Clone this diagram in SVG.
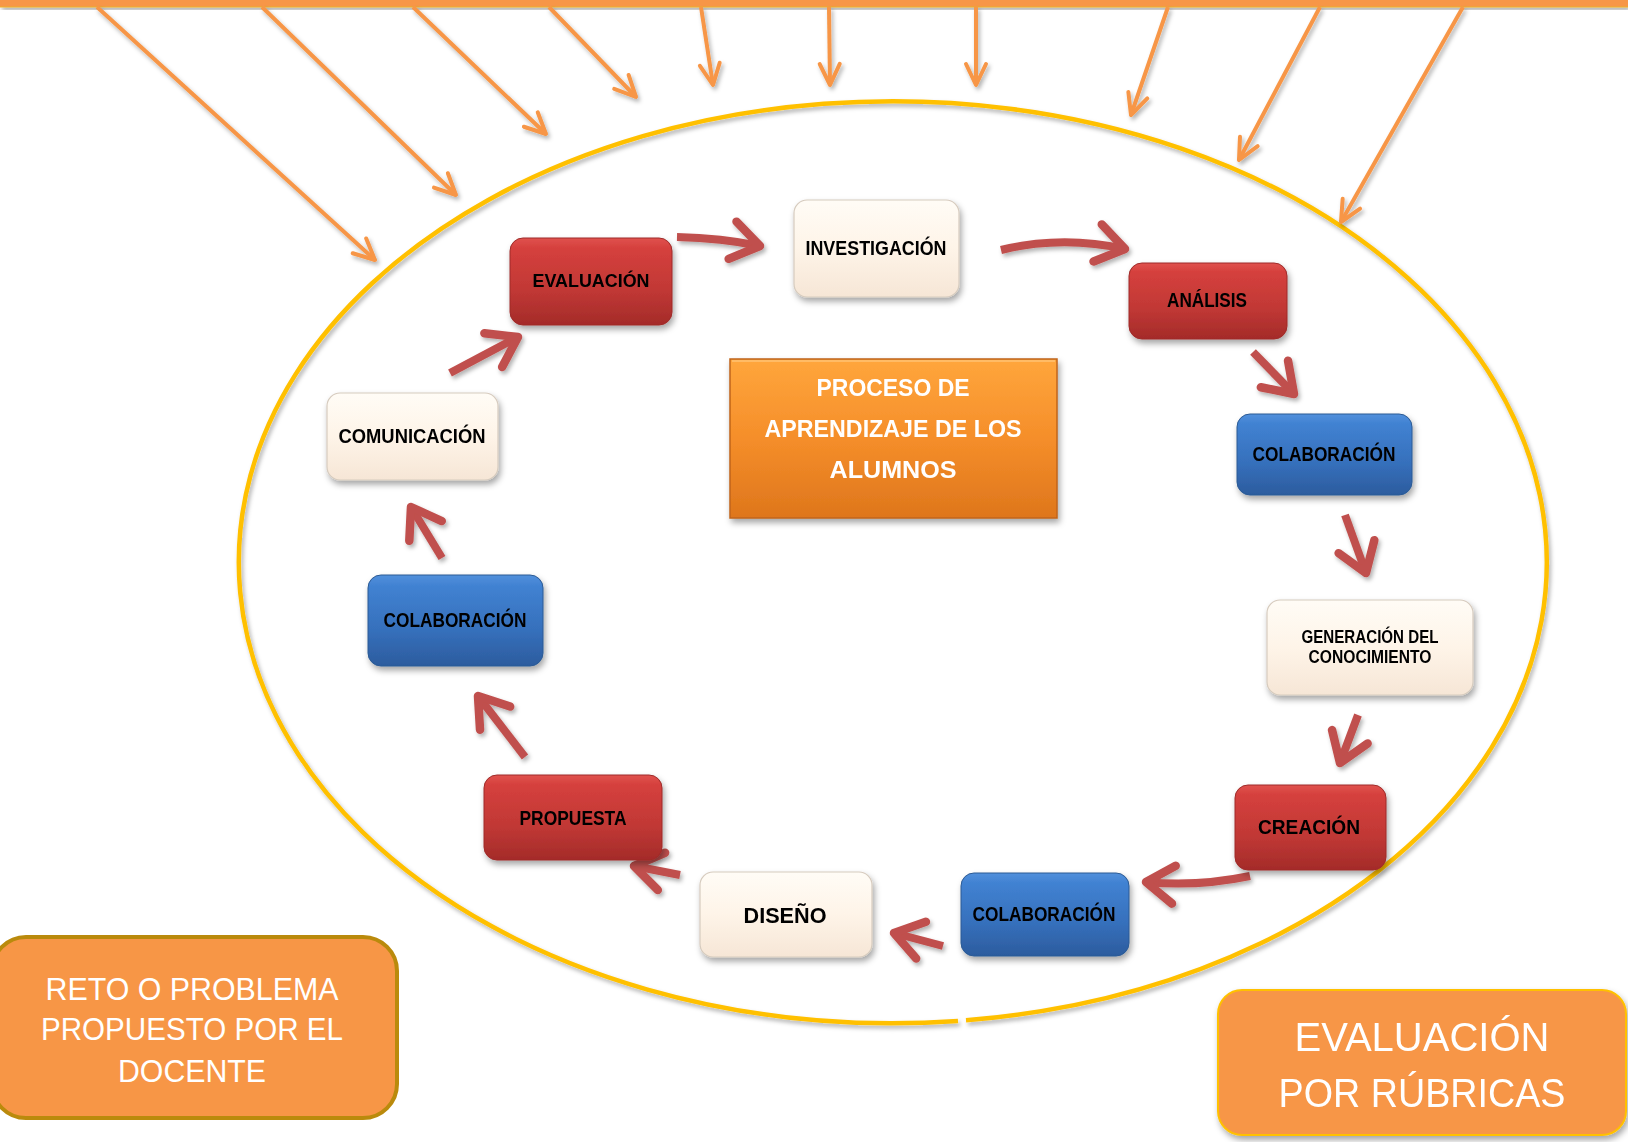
<svg xmlns="http://www.w3.org/2000/svg" width="1628" height="1142" viewBox="0 0 1628 1142">
<style>
.lbl{font-family:"Liberation Sans",Arial,sans-serif;font-weight:bold;fill:#000;text-anchor:middle}
.wht{font-family:"Liberation Sans",Arial,sans-serif;fill:#fff;text-anchor:middle}
.red{fill:url(#redG);stroke:#9E2B29;stroke-width:1}
.blue{fill:url(#blueG);stroke:#2C5A94;stroke-width:1}
.cream{fill:url(#creamG);stroke:#D6CBBE;stroke-width:1.2}
.rarrow{fill:none;stroke:#C0504D;stroke-width:8;stroke-linecap:butt;marker-end:url(#redHead)}
.oarrow{fill:none;stroke:#F79646;stroke-width:4;stroke-linecap:butt;marker-end:url(#orHead)}
</style>
<defs>
<linearGradient id="redG" x1="0" y1="0" x2="0" y2="1">
<stop offset="0" stop-color="#E0524E"/><stop offset="0.12" stop-color="#D5403D"/><stop offset="0.6" stop-color="#C13835"/><stop offset="1" stop-color="#A42B29"/>
</linearGradient>
<linearGradient id="blueG" x1="0" y1="0" x2="0" y2="1">
<stop offset="0" stop-color="#5290DC"/><stop offset="0.12" stop-color="#4182D2"/><stop offset="0.6" stop-color="#3670BC"/><stop offset="1" stop-color="#2C5C9E"/>
</linearGradient>
<linearGradient id="creamG" x1="0" y1="0" x2="0" y2="1">
<stop offset="0" stop-color="#FFFCF6"/><stop offset="0.5" stop-color="#FEF4E8"/><stop offset="1" stop-color="#F6E6D6"/>
</linearGradient>
<linearGradient id="orG" x1="0" y1="0" x2="0" y2="1">
<stop offset="0" stop-color="#FFA63C"/><stop offset="0.5" stop-color="#F58E2A"/><stop offset="1" stop-color="#DE761C"/>
</linearGradient>
<filter id="sh" x="-20%" y="-20%" width="140%" height="150%">
<feDropShadow dx="2" dy="4" stdDeviation="3" flood-color="#000" flood-opacity="0.35"/>
</filter>
<filter id="shs" x="-20%" y="-20%" width="140%" height="150%">
<feDropShadow dx="2" dy="3" stdDeviation="2" flood-color="#000" flood-opacity="0.3"/>
</filter>
<marker id="redHead" markerUnits="userSpaceOnUse" viewBox="-40 -30 50 60" markerWidth="50" markerHeight="60" refX="0" refY="0" orient="auto" overflow="visible">
<path d="M-28,-19 L0,0 L-28,19" fill="none" stroke="#C0504D" stroke-width="8.5" stroke-linecap="round" stroke-linejoin="round"/>
</marker>
<marker id="orHead" markerUnits="userSpaceOnUse" viewBox="-30 -20 40 40" markerWidth="40" markerHeight="40" refX="0" refY="0" orient="auto" overflow="visible">
<path d="M-21,-10 L0,0 L-21,10" fill="none" stroke="#F79646" stroke-width="4" stroke-linecap="round" stroke-linejoin="round"/>
</marker>
</defs>
<rect width="1628" height="1142" fill="#fff"/>

<g id="topbar" filter="url(#shs)">
<rect x="0" y="0" width="1628" height="7" fill="#F79646"/>
<line x1="0" y1="7" x2="1628" y2="7" stroke="#EBB02C" stroke-width="1"/>
</g>

<g id="ellipse" filter="url(#shs)">
<path d="M966,1020.3 A654,461 0 1,0 958,1020.9" fill="none" stroke="#FFC000" stroke-width="4.5"/>
</g>

<g id="input-arrows" filter="url(#shs)">
<path class="oarrow" d="M97,7 L375,260"/>
<path class="oarrow" d="M262,7 L456,195"/>
<path class="oarrow" d="M413,7 L546,134"/>
<path class="oarrow" d="M549,7 L636,97"/>
<path class="oarrow" d="M701,7 L713,85"/>
<path class="oarrow" d="M829,7 L830,85"/>
<path class="oarrow" d="M976,7 L976,85"/>
<path class="oarrow" d="M1168,7 L1131,115"/>
<path class="oarrow" d="M1320,7 L1239,160"/>
<path class="oarrow" d="M1463,7 L1341,222"/>
</g>

<g id="connectors" filter="url(#shs)">
<path class="rarrow" d="M677,237 Q722,238 760,246"/>
<path class="rarrow" d="M1001,250 Q1062,235 1125,249"/>
<path class="rarrow" d="M1253,352 L1294,394"/>
<path class="rarrow" d="M1345,515 L1366,573"/>
<path class="rarrow" d="M1358,715 L1340,763"/>
<path class="rarrow" d="M1250,876 Q1197,887 1146,882"/>
<path class="rarrow" d="M943,946 L894,933"/>
<path class="rarrow" d="M680,875 L634,866"/>
<path class="rarrow" d="M525,757 L478,696"/>
<path class="rarrow" d="M442,558 L411,507"/>
<path class="rarrow" d="M450,373 L518,337"/>
</g>

<g id="node-evaluacion" filter="url(#sh)">
<rect class="red" x="510" y="238" width="162" height="87" rx="13"/>
<text class="lbl" x="591" y="287" font-size="19" textLength="117" lengthAdjust="spacingAndGlyphs">EVALUACIÓN</text>
</g>
<g id="node-investigacion" filter="url(#sh)">
<rect class="cream" x="794" y="200" width="165" height="97" rx="13"/>
<text class="lbl" x="876" y="255" font-size="19.5" textLength="141" lengthAdjust="spacingAndGlyphs">INVESTIGACIÓN</text>
</g>
<g id="node-analisis" filter="url(#sh)">
<rect class="red" x="1129" y="263" width="158" height="76" rx="13"/>
<text class="lbl" x="1207" y="306.5" font-size="19.5" textLength="80" lengthAdjust="spacingAndGlyphs">ANÁLISIS</text>
</g>
<g id="node-colaboracion-1" filter="url(#sh)">
<rect class="blue" x="1237" y="414" width="175" height="81" rx="13"/>
<text class="lbl" x="1324" y="460.5" font-size="19.5" textLength="143" lengthAdjust="spacingAndGlyphs">COLABORACIÓN</text>
</g>
<g id="node-generacion" filter="url(#sh)">
<rect class="cream" x="1267" y="600" width="206" height="95" rx="13"/>
<text class="lbl" x="1370" y="642.5" font-size="17.5" textLength="137" lengthAdjust="spacingAndGlyphs">GENERACIÓN DEL</text>
<text class="lbl" x="1370" y="663" font-size="17.5" textLength="123" lengthAdjust="spacingAndGlyphs">CONOCIMIENTO</text>
</g>
<g id="node-creacion" filter="url(#sh)">
<rect class="red" x="1235" y="785" width="151" height="85" rx="13"/>
<text class="lbl" x="1309" y="834" font-size="20.5" textLength="102" lengthAdjust="spacingAndGlyphs">CREACIÓN</text>
</g>
<g id="node-colaboracion-2" filter="url(#sh)">
<rect class="blue" x="961" y="873" width="168" height="83" rx="13"/>
<text class="lbl" x="1044" y="920.5" font-size="19.5" textLength="143" lengthAdjust="spacingAndGlyphs">COLABORACIÓN</text>
</g>
<g id="node-diseno" filter="url(#sh)">
<rect class="cream" x="700" y="872" width="172" height="85" rx="13"/>
<text class="lbl" x="785" y="922.5" font-size="22.5" textLength="83" lengthAdjust="spacingAndGlyphs">DISEÑO</text>
</g>
<g id="node-propuesta" filter="url(#sh)">
<rect class="red" x="484" y="775" width="178" height="85" rx="13"/>
<text class="lbl" x="573" y="825" font-size="19.5" textLength="107" lengthAdjust="spacingAndGlyphs">PROPUESTA</text>
</g>
<g id="node-colaboracion-3" filter="url(#sh)">
<rect class="blue" x="368" y="575" width="175" height="91" rx="13"/>
<text class="lbl" x="455" y="626.5" font-size="19.5" textLength="143" lengthAdjust="spacingAndGlyphs">COLABORACIÓN</text>
</g>
<g id="node-comunicacion" filter="url(#sh)">
<rect class="cream" x="327" y="393" width="171" height="87" rx="13"/>
<text class="lbl" x="412" y="442.5" font-size="19.5" textLength="147" lengthAdjust="spacingAndGlyphs">COMUNICACIÓN</text>
</g>

<g id="node-proceso" filter="url(#sh)">
<rect x="730" y="359" width="327" height="159" fill="url(#orG)" stroke="#C0641A" stroke-width="1.5"/>
<path d="M732,361 L1055,361" stroke="#FFC070" stroke-width="2" fill="none" opacity="0.8"/>
<text class="wht" x="893" y="396" font-size="24" font-weight="bold" textLength="153" lengthAdjust="spacingAndGlyphs">PROCESO DE</text>
<text class="wht" x="893" y="437" font-size="24" font-weight="bold" textLength="257" lengthAdjust="spacingAndGlyphs">APRENDIZAJE DE LOS</text>
<text class="wht" x="893" y="478" font-size="24" font-weight="bold" textLength="127" lengthAdjust="spacingAndGlyphs">ALUMNOS</text>
</g>

<g id="node-reto">
<rect x="-8" y="937" width="405" height="181" rx="34" fill="#F79646" stroke="#BA8A0C" stroke-width="4"/>
<text class="wht" x="192" y="1000" font-size="31" textLength="293" lengthAdjust="spacingAndGlyphs">RETO O PROBLEMA</text>
<text class="wht" x="192" y="1040" font-size="31" textLength="302" lengthAdjust="spacingAndGlyphs">PROPUESTO POR EL</text>
<text class="wht" x="192" y="1082" font-size="31" textLength="148" lengthAdjust="spacingAndGlyphs">DOCENTE</text>
</g>

<g id="node-rubricas" filter="url(#sh)">
<rect x="1218" y="990" width="408" height="145" rx="24" fill="#F79646" stroke="#FFC000" stroke-width="2"/>
<text class="wht" x="1422" y="1050.5" font-size="40" textLength="255" lengthAdjust="spacingAndGlyphs">EVALUACIÓN</text>
<text class="wht" x="1422" y="1106.5" font-size="40" textLength="287" lengthAdjust="spacingAndGlyphs">POR RÚBRICAS</text>
</g>
</svg>
